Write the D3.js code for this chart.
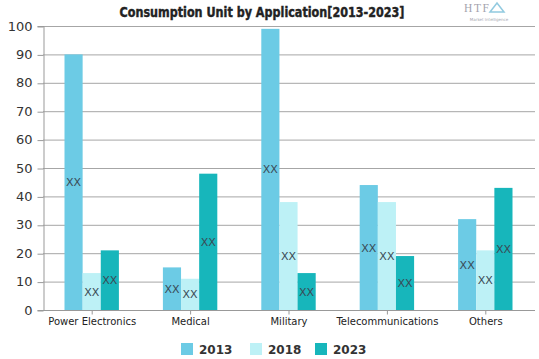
<!DOCTYPE html>
<html><head><meta charset="utf-8">
<script src="https://cdn.jsdelivr.net/npm/d3@7"></script>
<style>body{margin:0;background:#fff}svg{display:block}</style>
</head><body>
<svg id="c" width="539" height="359"></svg>
<script>
const categories = ["Power Electronics","Medical","Military","Telecommunications","Others"];
const seriesNames = ["2013","2018","2023"];
const v2013 = [90,15,99,44,32];
const v2018 = [13,11,38,38,21];
const v2023 = [21,48,13,19,43];
const yTicks = [0,10,20,30,40,50,60,70,80,90,100];
const colors = ["#6ccbe5","#bdf1f6","#17b6bb"];
const barLabel = "XX";

(function () {
const values = [v2013, v2018, v2023];
const svg = d3.select("#c");
const mLeft = 43, mRight = 535, mTop = 26, mBottom = 310;

const x = d3.scaleBand().domain(categories).range([mLeft, mRight]).paddingInner(0).paddingOuter(0);
const x1 = d3.scaleBand().domain(seriesNames).range([21.5, x.bandwidth() - 22.5]).padding(0);
const y = d3.scaleLinear().domain([0, 100]).range([mBottom, mTop]);

// gridlines
svg.append("g").selectAll("line").data(yTicks.filter(d => d > 0)).join("line")
  .attr("x1", mLeft).attr("x2", mRight)
  .attr("y1", d => y(d) + 0.5).attr("y2", d => y(d) + 0.5)
  .attr("stroke", "#a6a6a6").attr("stroke-width", 1);

// y axis
const ya = svg.append("g").attr("transform", `translate(${mLeft + 0.5},0)`)
  .call(d3.axisLeft(y).tickValues(yTicks).tickSize(6).tickPadding(5));
ya.select(".domain").attr("stroke", "#999");
ya.selectAll(".tick line").attr("stroke", "#999").attr("transform", "translate(0,0.5)");
ya.selectAll(".tick text").attr("font-family", "'DejaVu Sans', sans-serif").attr("font-size", 13).attr("fill", "#333");

// bars
categories.forEach((c, ci) => {
  const g = svg.append("g").attr("transform", `translate(${x(c)},0)`);
  seriesNames.forEach((s, si) => {
    const v = values[si][ci];
    g.append("rect").attr("x", x1(s)).attr("width", x1.bandwidth())
      .attr("y", y(v)).attr("height", y(0) - y(v)).attr("fill", colors[si]);
    g.append("text").attr("x", x1(s) + x1.bandwidth() / 2).attr("y", y(v / 2) + 4)
      .attr("text-anchor", "middle").attr("font-family", "'DejaVu Sans', sans-serif")
      .attr("font-size", 11).attr("fill", "#3a4a55").text(barLabel);
  });
});

// x axis
const xa = svg.append("g").attr("transform", `translate(0,${mBottom + 0.5})`)
  .call(d3.axisBottom(x).tickSize(4).tickPadding(3));
xa.select(".domain").attr("stroke", "#999").attr("d", `M${mLeft},0H${mRight}`);
xa.selectAll(".tick line").attr("stroke", "#999");
xa.selectAll(".tick text").attr("font-family", "'DejaVu Sans', sans-serif").attr("font-size", 10).attr("fill", "#222");

// title
svg.append("text").attr("x", 262).attr("y", 17).attr("text-anchor", "middle")
  .attr("font-family", "'DejaVu Sans Condensed', 'Liberation Sans Narrow', sans-serif")
  .attr("font-weight", "bold").attr("font-size", 14).attr("fill", "#222")
  .attr("stroke", "#222").attr("stroke-width", 0.4)
  .attr("textLength", 285).attr("lengthAdjust", "spacingAndGlyphs")
  .text("Consumption Unit by  Application[2013-2023]");

// logo
const logo = svg.append("g").attr("opacity", 0.6);
logo.append("text").attr("x", 464).attr("y", 12).attr("font-family", "'Liberation Serif', serif")
  .attr("font-size", 11.5).attr("fill", "#667").attr("textLength", 25).text("HTF");
logo.append("path").attr("d", "M490,12 L497,3 L504,12 Z").attr("fill", "none").attr("stroke", "#4aa8cc").attr("stroke-width", 1.5);
logo.append("text").attr("x", 489).attr("y", 21).attr("text-anchor", "middle")
  .attr("font-family", "'DejaVu Sans', sans-serif").attr("font-size", 4).attr("fill", "#667").text("Market Intelligence");

// legend
const legX = [181, 250, 315];
seriesNames.forEach((s, i) => {
  svg.append("rect").attr("x", legX[i]).attr("y", 343).attr("width", 12).attr("height", 12).attr("fill", colors[i]);
  svg.append("text").attr("x", legX[i] + 18).attr("y", 354)
    .attr("font-family", "'DejaVu Sans', sans-serif").attr("font-weight", "bold")
    .attr("font-size", 12).attr("fill", "#333").text(s);
});
})();
</script>
</body></html>
